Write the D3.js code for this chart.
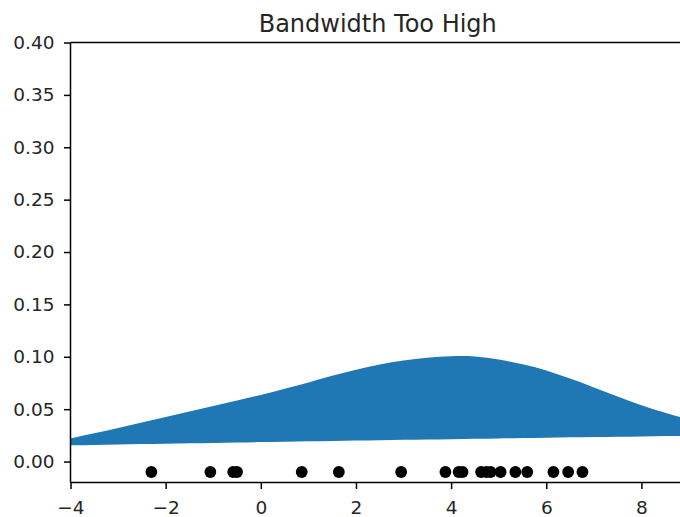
<!DOCTYPE html>
<html>
<head>
<meta charset="utf-8">
<script src="https://cdn.jsdelivr.net/npm/d3@7"></script>
<style>
  html, body { margin: 0; padding: 0; background: #fff; }
  svg { display: block; }
  text { font-family: "DejaVu Sans", sans-serif; fill: #262626; }
</style>
</head>
<body>
<svg id="chart" width="680" height="517"></svg>
<script>
// ---- data ----
const title = "Bandwidth Too High";
const gridX = [-4,-3.5,-3,-2.5,-2,-1.5,-1,-0.5,0,0.5,1,1.5,2,2.5,3,3.5,4,4.5,5,5.5,6,6.5,7,7.5,8,8.5,9];
const upperY = [0.0220,0.0270,0.0320,0.0372,0.0425,0.0478,0.0530,0.0583,0.0636,0.0695,0.0755,0.0818,0.0876,0.0927,0.0965,0.0991,0.1005,0.1002,0.0973,0.0929,0.0870,0.0792,0.0708,0.0622,0.0537,0.0465,0.0400];
const lowerY = [0.0155,0.0159,0.0163,0.0167,0.0171,0.0175,0.0178,0.0182,0.0186,0.0190,0.0193,0.0197,0.0200,0.0204,0.0207,0.0211,0.0214,0.0218,0.0221,0.0225,0.0228,0.0231,0.0234,0.0237,0.0240,0.0243,0.0246];
const samplesX = [-2.30,-1.06,-0.58,-0.50,0.86,1.64,2.95,3.88,4.16,4.24,4.63,4.74,4.83,5.04,5.35,5.60,6.15,6.46,6.76];
const samplesY = -0.01;
const xTicks = [-4,-2,0,2,4,6,8];
const yTicks = [0.00,0.05,0.10,0.15,0.20,0.25,0.30,0.35,0.40];

// ---- layout ----
const svg = d3.select("#chart");
const pL = 70.5, pR = 689, pT = 42.5, pB = 482.5;
const x = d3.scaleLinear().domain([-4, 9]).range([pL, pR]);
const y = d3.scaleLinear().domain([-0.02, 0.40]).range([pB, pT]);

svg.append("defs").append("clipPath").attr("id", "clip")
  .append("rect").attr("x", pL).attr("y", pT).attr("width", pR - pL).attr("height", pB - pT);

const rows = gridX.map((gx, i) => ({x: gx, hi: upperY[i], lo: lowerY[i]}));
const area = d3.area()
  .x(d => x(d.x)).y0(d => y(d.lo)).y1(d => y(d.hi))
  .curve(d3.curveNatural);

const g = svg.append("g").attr("clip-path", "url(#clip)");
g.append("path").datum(rows).attr("d", area).attr("fill", "#1f77b4");

g.selectAll("circle.pt").data(samplesX).enter().append("circle")
  .attr("class", "pt")
  .attr("cx", d => x(d)).attr("cy", y(samplesY)).attr("r", 5.9)
  .attr("fill", "#000");

// axes
const fmtY = d3.format(".2f");
const yAxis = d3.axisLeft(y).tickValues(yTicks).tickFormat(fmtY).tickSize(6.5).tickPadding(9.5);
const xAxis = d3.axisBottom(x).tickValues(xTicks).tickFormat(d3.format("d")).tickSize(6.5).tickPadding(12);

const ya = svg.append("g").attr("transform", `translate(${pL},0)`).call(yAxis);
const xa = svg.append("g").attr("transform", `translate(0,${pB})`).call(xAxis);
[ya, xa].forEach(a => {
  a.select(".domain").remove();
  a.selectAll(".tick line").attr("stroke", "#000").attr("stroke-width", 1.5);
  a.selectAll(".tick text").attr("font-size", 18.5).attr("fill", "#262626")
    .style("font-family", "'DejaVu Sans', sans-serif");
});

// spines
const spine = (x1, y1, x2, y2) => svg.append("line")
  .attr("x1", x1).attr("y1", y1).attr("x2", x2).attr("y2", y2)
  .attr("stroke", "#000").attr("stroke-width", 1.5);
spine(pL, pT, pL, pB);
spine(pL, pB, pR, pB);
spine(pL, pT, pR, pT);
spine(pR, pT, pR, pB);

// title
svg.append("text").attr("x", (pL + pR) / 2 - 2).attr("y", 31.5)
  .attr("text-anchor", "middle").attr("font-size", 24).text(title);
</script>
</body>
</html>
